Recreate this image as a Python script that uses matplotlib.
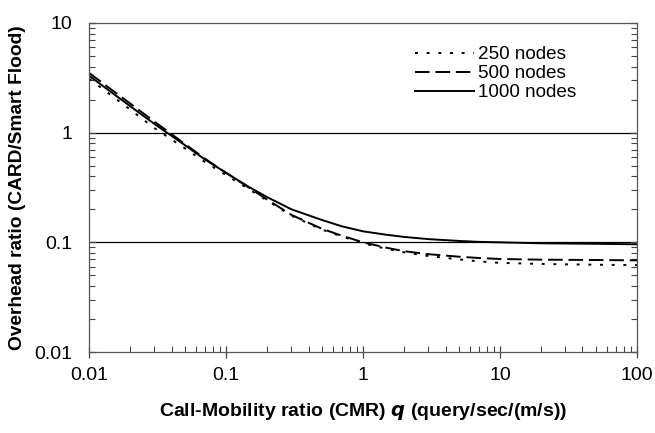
import numpy as np
import matplotlib.pyplot as plt
from matplotlib.ticker import LogLocator, NullFormatter, FixedLocator

plt.rcParams['font.family'] = ['Liberation Sans', 'DejaVu Sans']

# Call-mobility ratio samples
q = [0.01, 0.015, 0.02, 0.03, 0.05, 0.07, 0.1, 0.15, 0.2, 0.3, 0.5, 0.7,
     1, 1.5, 2, 3, 5, 7, 10, 20, 50, 100]

# Overhead ratio CARD / smart flooding for each network size
ratio_250 = [3.1, 2.12, 1.62, 1.1, 0.72, 0.54, 0.41, 0.3, 0.24, 0.175, 0.131, 0.113,
             0.098, 0.087, 0.081, 0.075, 0.07, 0.067, 0.065, 0.0635, 0.0625, 0.062]
ratio_500 = [3.5, 2.4, 1.84, 1.26, 0.79, 0.58, 0.43, 0.31, 0.245, 0.178, 0.133, 0.115,
             0.1, 0.089, 0.083, 0.078, 0.074, 0.072, 0.0705, 0.0695, 0.069, 0.0685]
ratio_1000 = [3.3, 2.27, 1.74, 1.2, 0.77, 0.57, 0.43, 0.315, 0.258, 0.2, 0.16, 0.14,
              0.126, 0.117, 0.112, 0.107, 0.103, 0.101, 0.1, 0.098, 0.097, 0.096]

x_ticks = [0.01, 0.1, 1, 10, 100]
x_labels = ['0.01', '0.1', '1', '10', '100']
y_ticks = [0.01, 0.1, 1, 10]
y_labels = ['0.01', '0.1', '1', '10']

fig = plt.figure(figsize=(6.55, 4.33), dpi=100)
ax = fig.add_axes([0.136, 0.187, 0.8365, 0.760])

# reference lines at 1 and 0.1
for yv in (1, 0.1):
    ax.axhline(yv, color='black', lw=0.9, zorder=1)

ax.plot(q, ratio_250, color='black', lw=1.4, dashes=(1.5, 4.5), label='250 nodes')
ax.plot(q, ratio_500, color='black', lw=1.4, dashes=(7.5, 3), label='500 nodes')
ax.plot(q, ratio_1000, color='black', lw=1.4, label='1000 nodes')

ax.set_xscale('log')
ax.set_yscale('log')
ax.set_xlim(0.01, 100)
ax.set_ylim(0.01, 10)

ax.xaxis.set_major_locator(FixedLocator(x_ticks))
ax.set_xticklabels(x_labels)
ax.yaxis.set_major_locator(FixedLocator(y_ticks))
ax.set_yticklabels(y_labels)
ax.xaxis.set_minor_locator(LogLocator(base=10, subs=np.arange(2, 10)))
ax.yaxis.set_minor_locator(LogLocator(base=10, subs=np.arange(2, 10)))
ax.xaxis.set_minor_formatter(NullFormatter())
ax.yaxis.set_minor_formatter(NullFormatter())

ax.tick_params(axis='x', which='major', direction='inout', length=8, width=0.9,
               labelsize=14, pad=7, colors='#444444', labelcolor='black')
ax.tick_params(axis='x', which='minor', direction='in', length=4, width=0.8, colors='#444444')
ax.tick_params(axis='y', which='major', direction='in', length=5, width=0.9,
               labelsize=14, pad=12, colors='#444444', labelcolor='black',
               right=True)
ax.tick_params(axis='y', which='minor', direction='in', length=4, width=0.8,
               colors='#444444', right=True)

for s in ax.spines.values():
    s.set_color('#555555')
    s.set_linewidth(0.9)

ax.set_xlabel('Call-Mobility ratio (CMR) $\\boldsymbol{q}$ (query/sec/(m/s))',
              fontsize=14, fontweight='bold', labelpad=12)
ax.set_ylabel('Overhead ratio (CARD/Smart Flood)', fontsize=13.8,
              fontweight='bold', labelpad=6)

ax.legend(loc='upper left', bbox_to_anchor=(0.595, 0.93), frameon=False,
          borderpad=0, borderaxespad=0, handlelength=3.1, handletextpad=0.25,
          labelspacing=0.1, fontsize=13.6)

fig.savefig('out.png', dpi=100)
